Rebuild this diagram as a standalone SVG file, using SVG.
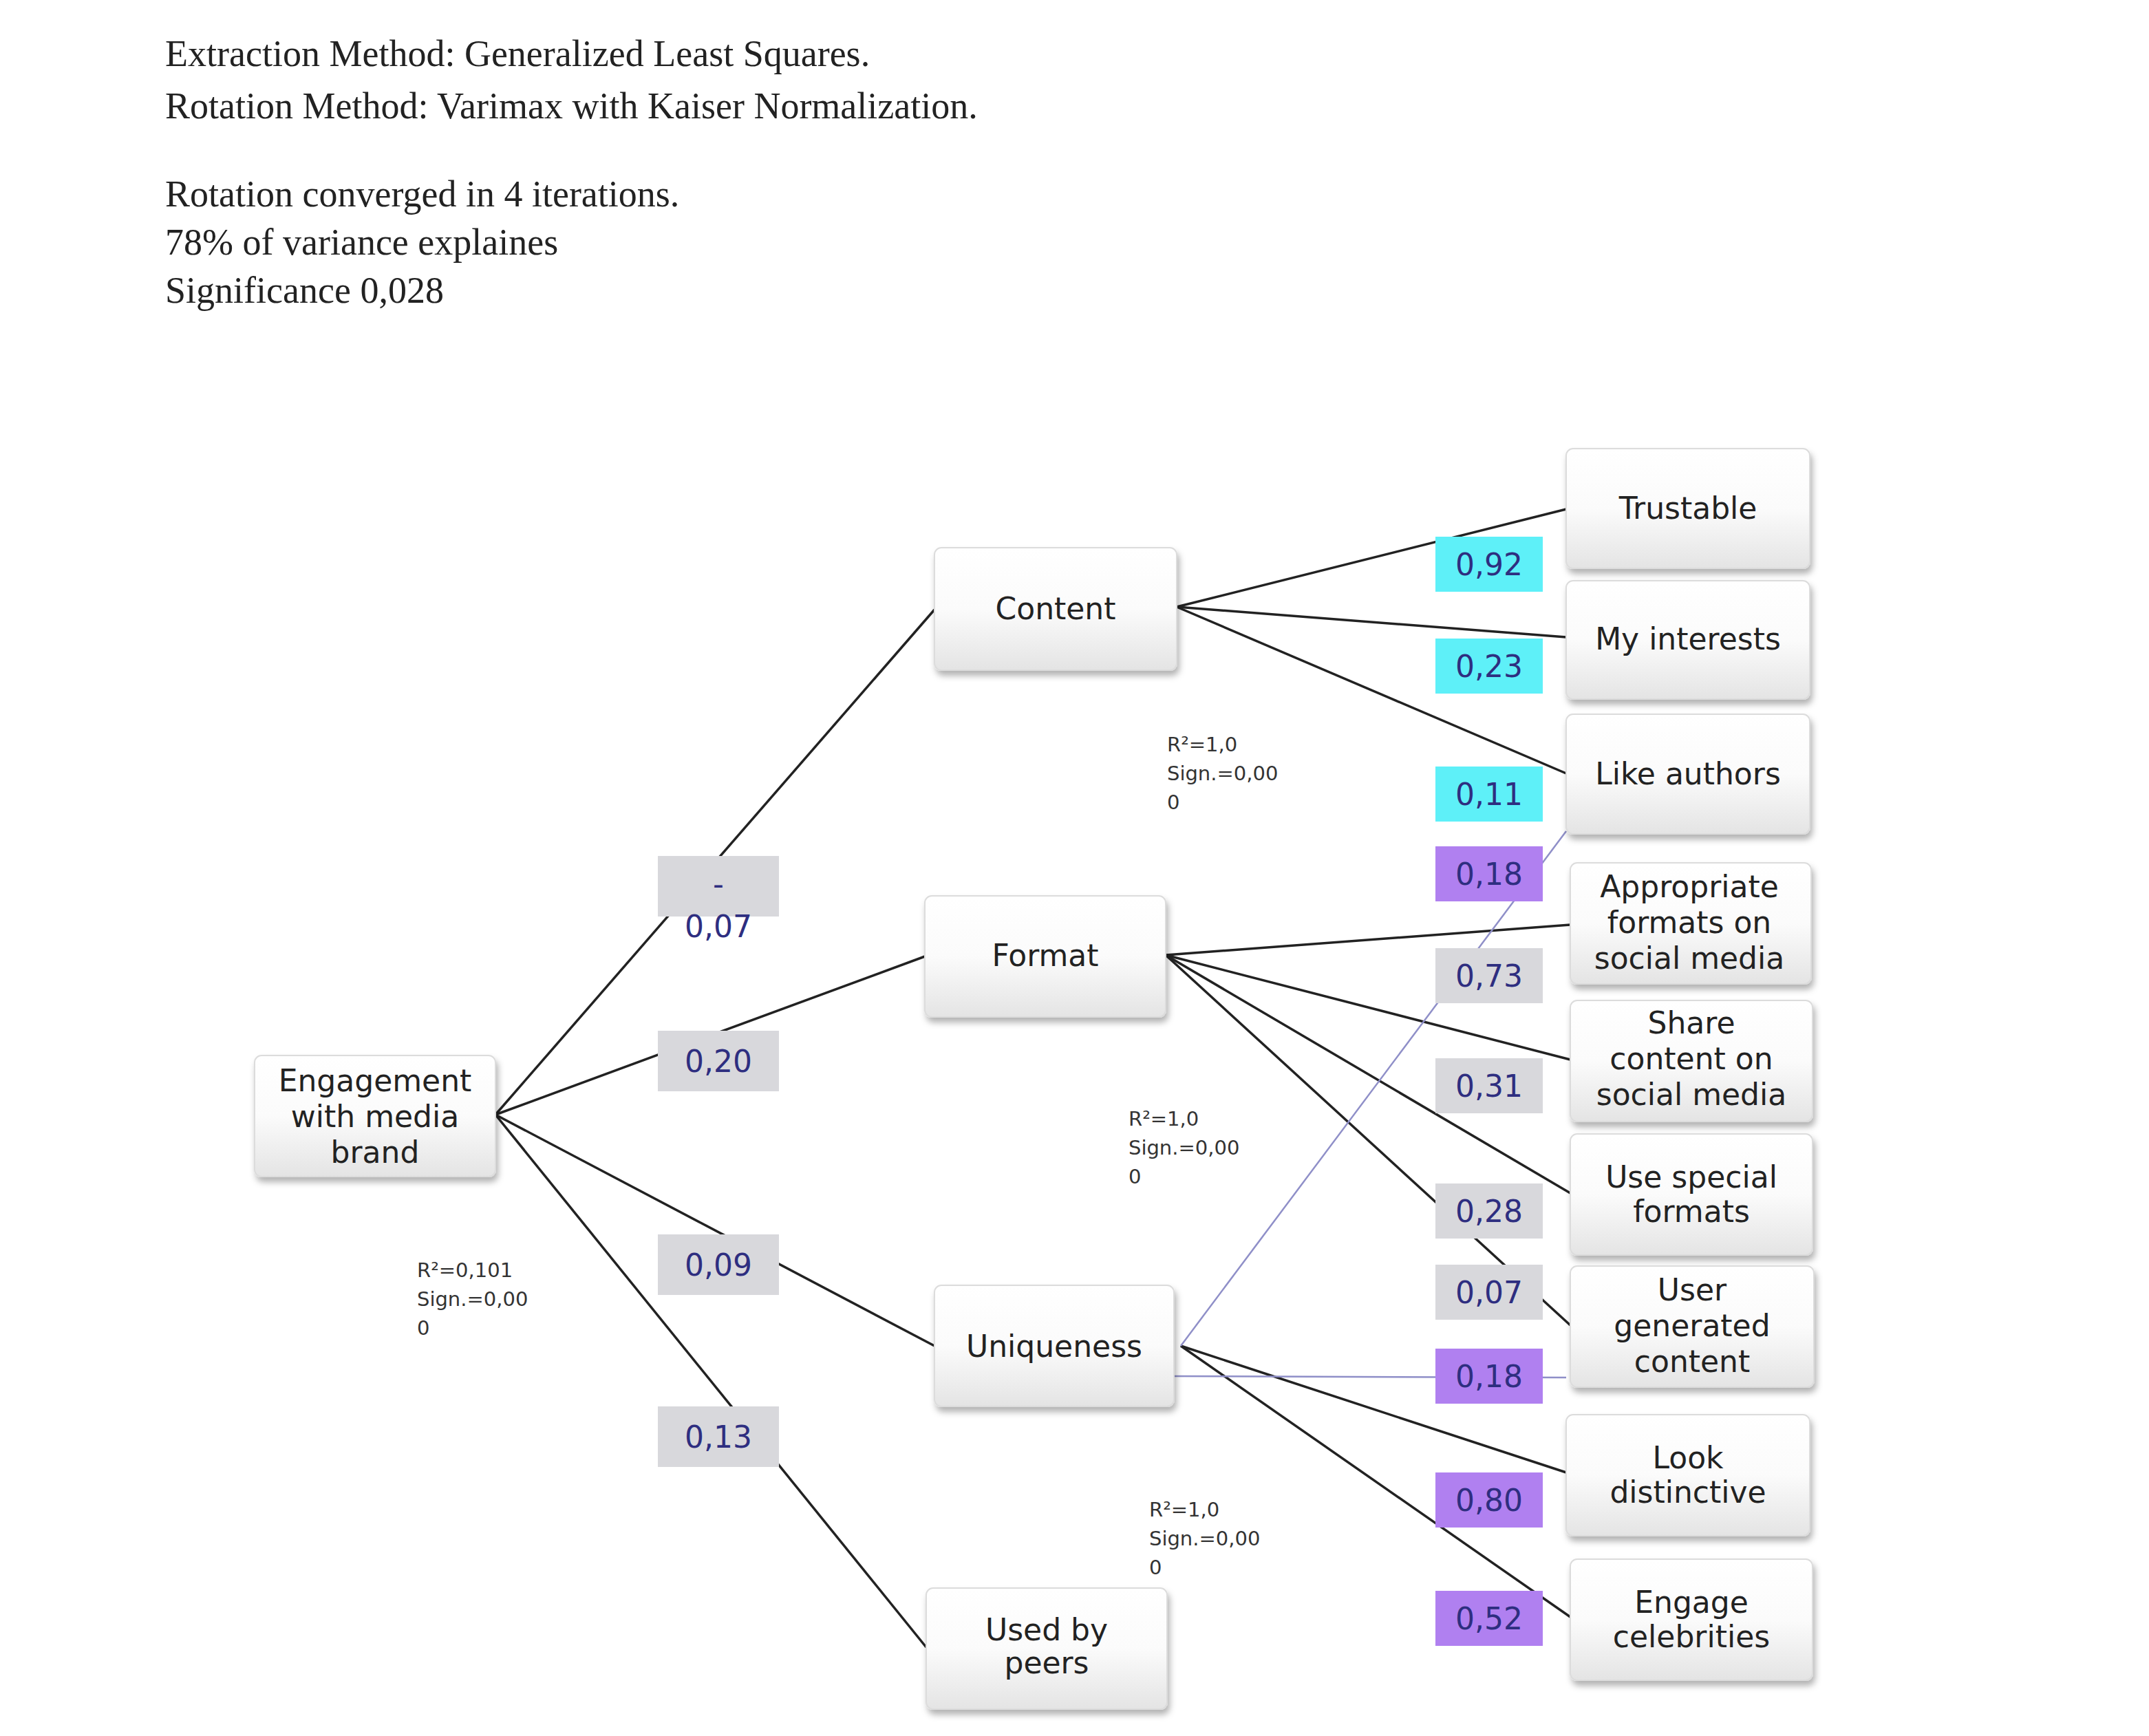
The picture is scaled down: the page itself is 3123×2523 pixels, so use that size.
<svg xmlns="http://www.w3.org/2000/svg" width="3123" height="2523" viewBox="0 0 3123 2523">
<defs>
<linearGradient id="g" x1="0" y1="0" x2="0" y2="1"><stop offset="0" stop-color="#ffffff"/><stop offset="0.5" stop-color="#fbfbfb"/><stop offset="1" stop-color="#e4e4e4"/></linearGradient>
<filter id="sh" x="-10%" y="-10%" width="125%" height="130%"><feDropShadow dx="3" dy="7" stdDeviation="5" flood-color="#000" flood-opacity="0.3"/></filter>
</defs>
<style>
.hd{font-family:"Liberation Serif",serif;font-size:54px;fill:#222}
.n rect{fill:url(#g);stroke:#dcdcdc;stroke-width:2;filter:url(#sh)}
.n text{font-family:"DejaVu Sans",Verdana,sans-serif;font-size:44px;fill:#222;text-anchor:middle}
.c line{stroke:#222;stroke-width:3.5}
.c .p{stroke:#8f8fc8;stroke-width:2.5}
.lb rect.gy{fill:#d8d8dc}.lb rect.cy{fill:#5ef0f8}.lb rect.pu{fill:#b080f0}
.lb text{font-family:"DejaVu Sans",Verdana,sans-serif;font-size:44px;fill:#2e2e80;text-anchor:middle}
.an{font-family:"DejaVu Sans",Verdana,sans-serif;font-size:29px;fill:#333}
</style>
<rect width="3123" height="2523" fill="#fff"/>
<g id="header">
<text class="hd" x="240" y="96">Extraction Method: Generalized Least Squares.</text>
<text class="hd" x="240" y="172">Rotation Method: Varimax with Kaiser Normalization.</text>
<text class="hd" x="240" y="300">Rotation converged in 4 iterations.</text>
<text class="hd" x="240" y="370">78% of variance explaines</text>
<text class="hd" x="240" y="440">Significance 0,028</text>
</g>
<g id="connectors" class="c">
<line x1="720" y1="1620" x2="1358" y2="886"/>
<line x1="720" y1="1620" x2="1344" y2="1390"/>
<line x1="720" y1="1620" x2="1358" y2="1956"/>
<line x1="720" y1="1620" x2="1346" y2="2394"/>
<line x1="1710" y1="882" x2="2276" y2="740"/>
<line x1="1710" y1="882" x2="2276" y2="926"/>
<line x1="1710" y1="882" x2="2276" y2="1124"/>
<line x1="1694" y1="1388" x2="2282" y2="1344"/>
<line x1="1694" y1="1388" x2="2282" y2="1540"/>
<line x1="1694" y1="1388" x2="2282" y2="1734"/>
<line x1="1694" y1="1388" x2="2282" y2="1926"/>
<line x1="1716" y1="1956" x2="2276" y2="2140"/>
<line x1="1716" y1="1956" x2="2282" y2="2350"/>
<line class="p" x1="1716" y1="1956" x2="2276" y2="1208"/>
<line class="p" x1="1696" y1="2000" x2="2276" y2="2002"/>
</g>
<g id="labels" class="lb">
<rect class="gy" x="956" y="1244" width="176" height="88"/><text x="1044" y="1300">-</text><text x="1044" y="1362">0,07</text>
<rect class="gy" x="956" y="1498" width="176" height="88"/><text x="1044" y="1558">0,20</text>
<rect class="gy" x="956" y="1794" width="176" height="88"/><text x="1044" y="1854">0,09</text>
<rect class="gy" x="956" y="2044" width="176" height="88"/><text x="1044" y="2104">0,13</text>
<rect class="cy" x="2086" y="780" width="156" height="80"/><text x="2164" y="836">0,92</text>
<rect class="cy" x="2086" y="928" width="156" height="80"/><text x="2164" y="984">0,23</text>
<rect class="cy" x="2086" y="1114" width="156" height="80"/><text x="2164" y="1170">0,11</text>
<rect class="pu" x="2086" y="1230" width="156" height="80"/><text x="2164" y="1286">0,18</text>
<rect class="gy" x="2086" y="1378" width="156" height="80"/><text x="2164" y="1434">0,73</text>
<rect class="gy" x="2086" y="1538" width="156" height="80"/><text x="2164" y="1594">0,31</text>
<rect class="gy" x="2086" y="1720" width="156" height="80"/><text x="2164" y="1776">0,28</text>
<rect class="gy" x="2086" y="1838" width="156" height="80"/><text x="2164" y="1894">0,07</text>
<rect class="pu" x="2086" y="1960" width="156" height="80"/><text x="2164" y="2016">0,18</text>
<rect class="pu" x="2086" y="2140" width="156" height="80"/><text x="2164" y="2196">0,80</text>
<rect class="pu" x="2086" y="2312" width="156" height="80"/><text x="2164" y="2368">0,52</text>
</g>
<g id="annotations">
<text class="an" x="1696" y="1092">R²=1,0</text><text class="an" x="1696" y="1134">Sign.=0,00</text><text class="an" x="1696" y="1176">0</text>
<text class="an" x="1640" y="1636">R²=1,0</text><text class="an" x="1640" y="1678">Sign.=0,00</text><text class="an" x="1640" y="1720">0</text>
<text class="an" x="1670" y="2204">R²=1,0</text><text class="an" x="1670" y="2246">Sign.=0,00</text><text class="an" x="1670" y="2288">0</text>
<text class="an" x="606" y="1856">R²=0,101</text><text class="an" x="606" y="1898">Sign.=0,00</text><text class="an" x="606" y="1940">0</text>
</g>
<g id="n-engagement" class="n"><rect x="370" y="1534" width="350" height="176" rx="10"/><text x="545" y="1586">Engagement</text><text x="545" y="1638">with media</text><text x="545" y="1690">brand</text></g>
<g id="n-content" class="n"><rect x="1358" y="796" width="352" height="178" rx="10"/><text x="1534" y="900">Content</text></g>
<g id="n-format" class="n"><rect x="1344" y="1302" width="350" height="176" rx="10"/><text x="1519" y="1404">Format</text></g>
<g id="n-uniqueness" class="n"><rect x="1358" y="1868" width="348" height="176" rx="10"/><text x="1532" y="1972">Uniqueness</text></g>
<g id="n-peers" class="n"><rect x="1346" y="2308" width="350" height="176" rx="10"/><text x="1521" y="2384">Used by</text><text x="1521" y="2432">peers</text></g>
<g id="n-trustable" class="n"><rect x="2276" y="652" width="354" height="174" rx="10"/><text x="2453" y="754">Trustable</text></g>
<g id="n-interests" class="n"><rect x="2276" y="844" width="354" height="172" rx="10"/><text x="2453" y="944">My interests</text></g>
<g id="n-authors" class="n"><rect x="2276" y="1038" width="354" height="174" rx="10"/><text x="2453" y="1140">Like authors</text></g>
<g id="n-appropriate" class="n"><rect x="2282" y="1254" width="350" height="176" rx="10"/><text x="2455" y="1304">Appropriate</text><text x="2455" y="1356">formats on</text><text x="2455" y="1408">social media</text></g>
<g id="n-share" class="n"><rect x="2282" y="1454" width="352" height="176" rx="10"/><text x="2458" y="1502">Share</text><text x="2458" y="1554">content on</text><text x="2458" y="1606">social media</text></g>
<g id="n-special" class="n"><rect x="2282" y="1648" width="352" height="176" rx="10"/><text x="2458" y="1726">Use special</text><text x="2458" y="1776">formats</text></g>
<g id="n-ugc" class="n"><rect x="2282" y="1840" width="354" height="176" rx="10"/><text x="2459" y="1890">User</text><text x="2459" y="1942">generated</text><text x="2459" y="1994">content</text></g>
<g id="n-distinctive" class="n"><rect x="2276" y="2056" width="354" height="176" rx="10"/><text x="2453" y="2134">Look</text><text x="2453" y="2184">distinctive</text></g>
<g id="n-celebrities" class="n"><rect x="2282" y="2266" width="352" height="176" rx="10"/><text x="2458" y="2344">Engage</text><text x="2458" y="2394">celebrities</text></g>
</svg>
